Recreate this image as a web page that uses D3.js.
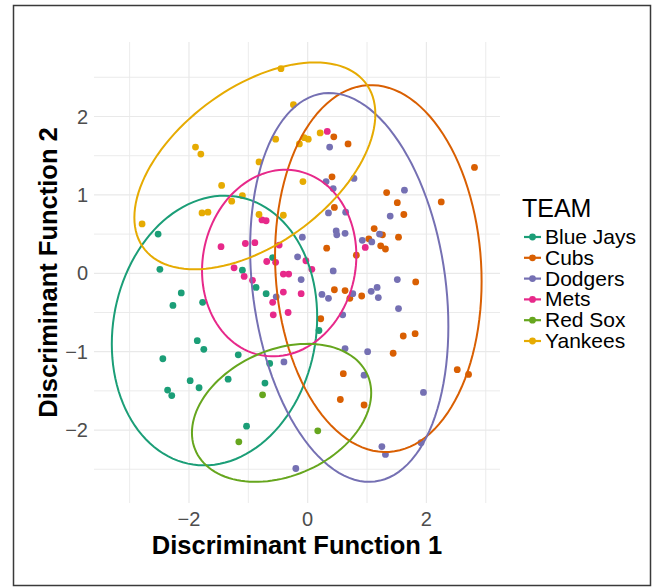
<!DOCTYPE html>
<meta charset="utf-8">

<!-- Load d3.js -->
<script src="https://d3js.org/d3.v7.min.js"></script>

<style>
    body { margin: 0; background: #fff; }
    text { font-family: "Liberation Sans", Arial, sans-serif; }
</style>

<body>
    <div id="my_dataviz"></div>

    <script>

        // teams and their colours (Dark2)
        var teams = ["Blue Jays", "Cubs", "Dodgers", "Mets", "Red Sox", "Yankees"];
        var teamColors = ["#1B9E77", "#D95F02", "#7570B3", "#E7298A", "#66A61E", "#E6AB02"];

        // points: [LD1, LD2]
        var blueJays = [[-2.52, 0.50], [-2.49, 0.05], [-0.59, 0.20], [-1.10, 0.04], [-0.87, -0.18],
            [-2.13, -0.25], [-2.27, -0.41], [-1.77, -0.37], [-0.70, -0.26], [-1.86, -0.86],
            [-1.75, -0.97], [-2.44, -1.09], [-1.17, -1.04], [-0.64, -1.15], [-1.98, -1.37],
            [-1.83, -1.46], [-2.36, -1.49], [-2.29, -1.56], [-1.34, -1.35], [-0.72, -1.40],
            [-1.03, -1.95], [0.19, -0.73]];
        var cubs = [[0.44, 1.74], [0.68, 1.65], [2.81, 1.35], [0.41, 1.23], [1.33, 1.03],
            [1.51, 0.90], [2.25, 0.91], [0.45, 0.84], [1.62, 0.75], [1.12, 0.57], [1.26, 0.49],
            [1.53, 0.46], [1.03, 0.44], [1.23, 0.35], [1.31, 0.31], [0.32, 0.32], [0.82, 0.23],
            [1.82, -0.11], [0.45, -0.21], [0.63, -0.22], [0.71, -0.32], [0.91, -0.29],
            [0.22, -0.58], [1.61, -0.80], [1.81, -0.77], [1.44, -1.02], [2.52, -1.23],
            [2.71, -1.29], [0.60, -1.28], [0.55, -1.61], [0.95, -1.68]];
        var dodgers = [[-0.09, 0.46], [-0.17, 0.21], [0.37, 1.61], [0.78, 1.21], [0.31, 1.17],
            [0.43, 1.08], [1.63, 1.06], [0.35, 0.77], [0.64, 0.78], [1.39, 0.73], [1.21, 0.50],
            [0.48, 0.54], [0.49, 0.49], [0.63, 0.51], [0.92, 0.42], [1.08, 0.40], [-0.11, -0.08],
            [-0.53, -0.30], [-0.40, -1.13], [-0.20, -2.49], [0.43, 0.03], [1.51, -0.08],
            [0.24, -0.27], [0.35, -0.32], [0.76, -0.26], [1.07, -0.23], [1.17, -0.18],
            [1.19, -0.31], [1.53, -0.45], [0.59, -0.53], [0.63, -0.96], [1.01, -1.00],
            [0.95, -1.30], [1.95, -1.52], [1.25, -2.21], [1.31, -2.31], [1.91, -2.16]];
        var mets = [[0.33, 1.81], [-0.77, 0.68], [-0.70, 0.67], [-1.46, 0.34], [-1.05, 0.38],
            [-0.89, 0.39], [-0.48, 0.36], [0.97, 0.33], [-0.69, 0.15], [-0.54, 0.14],
            [-1.24, 0.07], [-1.07, -0.04], [-0.93, -0.09], [-0.41, -0.01], [-0.32, -0.01],
            [-0.41, -0.24], [-0.11, -0.26], [-0.59, -0.37], [-0.58, -0.53], [-0.33, -0.50],
            [0.07, 0.05], [-0.03, 0.16]];
        var redSox = [[-0.76, -1.55], [-1.16, -2.15], [0.17, -2.01]];
        var yankees = [[-0.45, 2.61], [-0.24, 2.15], [-1.89, 1.61], [-1.80, 1.52], [-0.54, 1.71],
            [-0.14, 1.65], [-0.06, 1.73], [0.01, 1.71], [0.21, 1.79], [-0.82, 1.42],
            [-1.45, 1.12], [-1.10, 0.99], [-1.28, 0.92], [-1.78, 0.77], [-1.68, 0.78],
            [-0.82, 0.75], [-0.41, 0.74], [-0.08, 1.17], [-2.79, 0.63]];
        var teamPoints = [blueJays, cubs, dodgers, mets, redSox, yankees];

        // 95% ellipses: centre, half extents and correlation, per team
        var ellipseCx = [-1.57, 1.19, 0.70, -0.48, -0.44, -0.89];
        var ellipseCy = [-0.73, 0.06, -0.18, 0.13, -1.78, 1.37];
        var ellipseSx = [1.73, 1.74, 1.67, 1.30, 1.51, 2.03];
        var ellipseSy = [1.72, 2.34, 2.48, 1.19, 0.88, 1.32];
        var ellipseR = [0.10, -0.07, -0.20, 0.08, 0.29, 0.50];

        // axis breaks
        var xMajor = [-2, 0, 2], xMinor = [-3, -1, 1, 3];
        var yMajor = [-2, -1, 0, 1, 2], yMinor = [-2.5, -1.5, -0.5, 0.5, 1.5, 2.5];

        var W = 655, H = 588;
        var panel = { left: 94, right: 500, top: 42, bottom: 503 };

        var svg = d3.select("#my_dataviz").append("svg")
            .attr("width", W)
            .attr("height", H);

        svg.append("rect")
            .attr("width", W).attr("height", H)
            .attr("fill", "#fff");

        // outer frame
        svg.append("rect")
            .attr("x", 13.5).attr("y", 5.5)
            .attr("width", 637).attr("height", 580)
            .attr("fill", "none")
            .attr("stroke", "#3a3a3a")
            .attr("stroke-width", 1.5);

        var x = d3.scaleLinear().domain([-3.6, 3.24]).range([panel.left, panel.right]);
        var y = d3.scaleLinear().domain([-2.93, 2.95]).range([panel.bottom, panel.top]);

        // grid
        var grid = svg.append("g");
        grid.selectAll(".vx")
            .data(xMajor.concat(xMinor))
            .enter().append("line")
            .attr("x1", d => x(d)).attr("x2", d => x(d))
            .attr("y1", panel.top).attr("y2", panel.bottom)
            .attr("stroke", "#e9e9e9")
            .attr("stroke-width", d => xMajor.indexOf(d) >= 0 ? 1.2 : 0.9);
        grid.selectAll(".hy")
            .data(yMajor.concat(yMinor))
            .enter().append("line")
            .attr("y1", d => y(d)).attr("y2", d => y(d))
            .attr("x1", panel.left).attr("x2", panel.right)
            .attr("stroke", "#e9e9e9")
            .attr("stroke-width", d => yMajor.indexOf(d) >= 0 ? 1.2 : 0.9);

        // tick labels
        var fmt = d => d < 0 ? "\u2212" + Math.abs(d) : String(d);
        svg.append("g").selectAll("text")
            .data(xMajor)
            .enter().append("text")
            .attr("x", d => x(d))
            .attr("y", 525.5)
            .attr("text-anchor", "middle")
            .attr("font-size", 20)
            .attr("fill", "#4d4d4d")
            .text(fmt);
        svg.append("g").selectAll("text")
            .data(yMajor)
            .enter().append("text")
            .attr("x", 88)
            .attr("y", d => y(d))
            .attr("dy", "0.36em")
            .attr("text-anchor", "end")
            .attr("font-size", 20)
            .attr("fill", "#4d4d4d")
            .text(fmt);

        // axis titles
        svg.append("text")
            .attr("x", (panel.left + panel.right) / 2)
            .attr("y", 553.5)
            .attr("text-anchor", "middle")
            .attr("font-size", 25.5)
            .attr("font-weight", "bold")
            .text("Discriminant Function 1");
        svg.append("text")
            .attr("transform", "translate(57," + (panel.top + panel.bottom) / 2 + ") rotate(-90)")
            .attr("text-anchor", "middle")
            .attr("font-size", 25.5)
            .attr("font-weight", "bold")
            .text("Discriminant Function 2");

        // points
        var pts = [];
        teamPoints.forEach(function (arr, i) {
            arr.forEach(function (p) { pts.push({ team: i, x: p[0], y: p[1] }); });
        });
        svg.append("g").selectAll("circle")
            .data(pts)
            .enter().append("circle")
            .attr("cx", d => x(d.x))
            .attr("cy", d => y(d.y))
            .attr("r", 3.4)
            .attr("fill", d => teamColors[d.team]);

        // ellipses
        var line = d3.line().x(d => x(d[0])).y(d => y(d[1]));
        var ts = d3.range(0, 361, 3).map(d => d * Math.PI / 180);
        svg.append("g").selectAll("path")
            .data(teams)
            .enter().append("path")
            .attr("d", function (t, i) {
                var k = Math.sqrt(1 - ellipseR[i] * ellipseR[i]);
                return line(ts.map(a => [
                    ellipseCx[i] + ellipseSx[i] * Math.cos(a),
                    ellipseCy[i] + ellipseSy[i] * (ellipseR[i] * Math.cos(a) + k * Math.sin(a))
                ])) + "Z";
            })
            .attr("fill", "none")
            .attr("stroke", (t, i) => teamColors[i])
            .attr("stroke-width", 2);

        // legend
        var legend = svg.append("g");
        legend.append("text")
            .attr("x", 522).attr("y", 217)
            .attr("font-size", 25)
            .text("TEAM");
        var item = legend.selectAll(".item")
            .data(teams)
            .enter().append("g")
            .attr("transform", (t, i) => "translate(0," + (237 + i * 20.8) + ")");
        item.append("line")
            .attr("x1", 524).attr("x2", 541)
            .attr("stroke", (t, i) => teamColors[i])
            .attr("stroke-width", 2.2);
        item.append("circle")
            .attr("cx", 532.5).attr("r", 3.4)
            .attr("fill", (t, i) => teamColors[i]);
        item.append("text")
            .attr("x", 545).attr("y", 7)
            .attr("font-size", 21)
            .text(t => t);

    </script>
</body>
